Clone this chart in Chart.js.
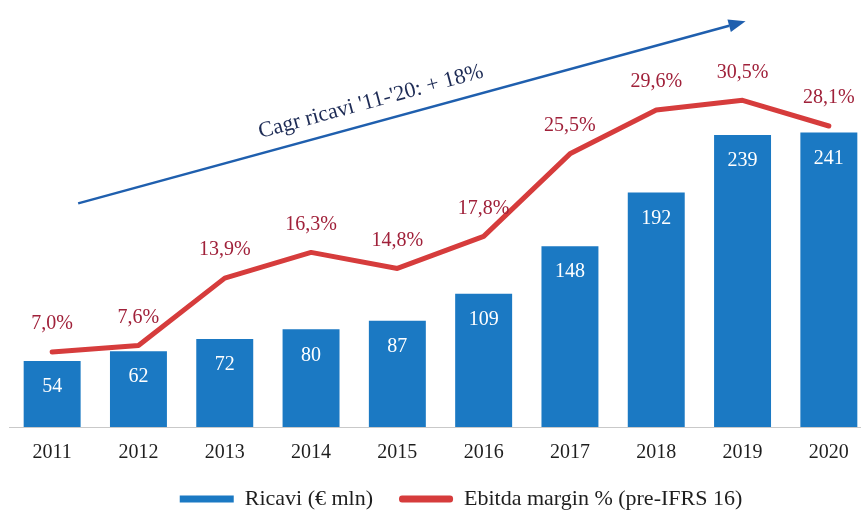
<!DOCTYPE html>
<html>
<head>
<meta charset="utf-8">
<script src="https://cdn.jsdelivr.net/npm/chart.js@4.4.1/dist/chart.umd.min.js"></script>
<style>
  html, body { margin: 0; padding: 0; background: #fff; overflow: hidden; }
  #wrap { position: relative; width: 921px; height: 511px; }
</style>
</head>
<body>
<div id="wrap"><canvas id="c"></canvas></div>
<script>
const years = ['2011','2012','2013','2014','2015','2016','2017','2018','2019','2020'];
const ricavi = [54, 62, 72, 80, 87, 109, 148, 192, 239, 241];
const ebitdaMargin = [7.0, 7.6, 13.9, 16.3, 14.8, 17.8, 25.5, 29.6, 30.5, 28.1];
const ebitdaLabels = ['7,0%','7,6%','13,9%','16,3%','14,8%','17,8%','25,5%','29,6%','30,5%','28,1%'];
const seriesNames = ['Ricavi (€ mln)', 'Ebitda margin % (pre-IFRS 16)'];
const cagrText = "Cagr ricavi '11-'20: + 18%";

const SERIF = '"Liberation Serif", "Times New Roman", serif';
const BLUE = '#1b79c3';
const RED = '#d63c3c';
const LABEL_RED = '#a0213a';

const labelsPlugin = {
  id: 'valueLabels',
  afterDatasetsDraw(chart) {
    const ctx = chart.ctx;
    ctx.save();
    ctx.textAlign = 'center';
    ctx.textBaseline = 'middle';
    ctx.font = '20px ' + SERIF;
    ctx.fillStyle = '#ffffff';
    chart.getDatasetMeta(0).data.forEach((el, i) => {
      ctx.fillText(String(ricavi[i]), el.x, el.y + 26);
    });
    ctx.fillStyle = LABEL_RED;
    chart.getDatasetMeta(1).data.forEach((el, i) => {
      ctx.fillText(ebitdaLabels[i], el.x, el.y - 28);
    });
    ctx.restore();
  }
};

const arrowPlugin = {
  id: 'cagrArrow',
  afterDatasetsDraw(chart) {
    const ctx = chart.ctx;
    const xs = chart.scales.x, ys = chart.scales.y;
    const x0 = xs.getPixelForValue(0) + 26, y0 = ys.getPixelForValue(183);
    const x1 = xs.getPixelForValue(8) + 3, y1 = ys.getPixelForValue(332);
    const ang = Math.atan2(y1 - y0, x1 - x0);
    ctx.save();
    ctx.strokeStyle = '#1f5fae';
    ctx.fillStyle = '#1f5fae';
    ctx.lineWidth = 2.5;
    const hl = 17;
    ctx.beginPath();
    ctx.moveTo(x0, y0);
    ctx.lineTo(x1 - hl * Math.cos(ang), y1 - hl * Math.sin(ang));
    ctx.stroke();
    ctx.beginPath();
    ctx.translate(x1, y1);
    ctx.rotate(ang);
    ctx.moveTo(0, 0);
    ctx.lineTo(-hl, -6.5);
    ctx.lineTo(-hl, 6.5);
    ctx.closePath();
    ctx.fill();
    ctx.restore();

    ctx.save();
    const tx = x0 + (x1 - x0) * 0.447, ty = y0 + (y1 - y0) * 0.447;
    ctx.translate(tx, ty);
    ctx.rotate(ang);
    ctx.font = '22px ' + SERIF;
    ctx.fillStyle = '#1d2b55';
    ctx.textAlign = 'center';
    ctx.textBaseline = 'alphabetic';
    ctx.fillText(cagrText, 0, -15);
    ctx.restore();
  }
};

new Chart(document.getElementById('c'), {
  data: {
    labels: years,
    datasets: [
      {
        type: 'bar',
        label: seriesNames[0],
        data: ricavi,
        backgroundColor: BLUE,
        borderWidth: 0,
        categoryPercentage: 1,
        barPercentage: 0.66,
        yAxisID: 'y',
        order: 2
      },
      {
        type: 'line',
        label: seriesNames[1],
        data: ebitdaMargin,
        borderColor: RED,
        backgroundColor: RED,
        borderWidth: 5,
        pointRadius: 0,
        tension: 0,
        borderCapStyle: 'round',
        borderJoinStyle: 'round',
        yAxisID: 'y2',
        order: 1
      }
    ]
  },
  options: {
    responsive: true,
    maintainAspectRatio: false,
    animation: false,
    layout: { padding: { left: 9, right: 8, top: 36, bottom: -9 } },
    scales: {
      x: {
        grid: { display: false },
        border: { display: true, color: '#c9c9c9', width: 1 },
        ticks: { font: { family: SERIF, size: 20 }, color: '#1e1e1e', padding: 6 },
        afterFit(scale) { scale.height = 35; }
      },
      y: { display: false, min: 0, max: 320 },
      y2: {
        display: true, min: 0, max: 36.5, position: 'right',
        ticks: { display: false },
        grid: { display: false },
        border: { display: false },
        afterFit(scale) { scale.width = 41; }
      }
    },
    plugins: {
      tooltip: { enabled: false },
      legend: {
        position: 'bottom',
        labels: {
          font: { family: SERIF, size: 22 },
          color: '#1e1e1e',
          boxWidth: 54,
          boxHeight: 7,
          padding: 26,
          generateLabels(chart) {
            return chart.data.datasets.map((ds, i) => ({
              text: ds.label,
              fillStyle: i === 0 ? BLUE : RED,
              strokeStyle: i === 0 ? BLUE : RED,
              lineWidth: 0,
              borderRadius: i === 0 ? 0 : 3,
              fontColor: '#1e1e1e',
              datasetIndex: i,
              hidden: false
            }));
          }
        }
      }
    }
  },
  plugins: [labelsPlugin, arrowPlugin]
});
</script>
</body>
</html>
